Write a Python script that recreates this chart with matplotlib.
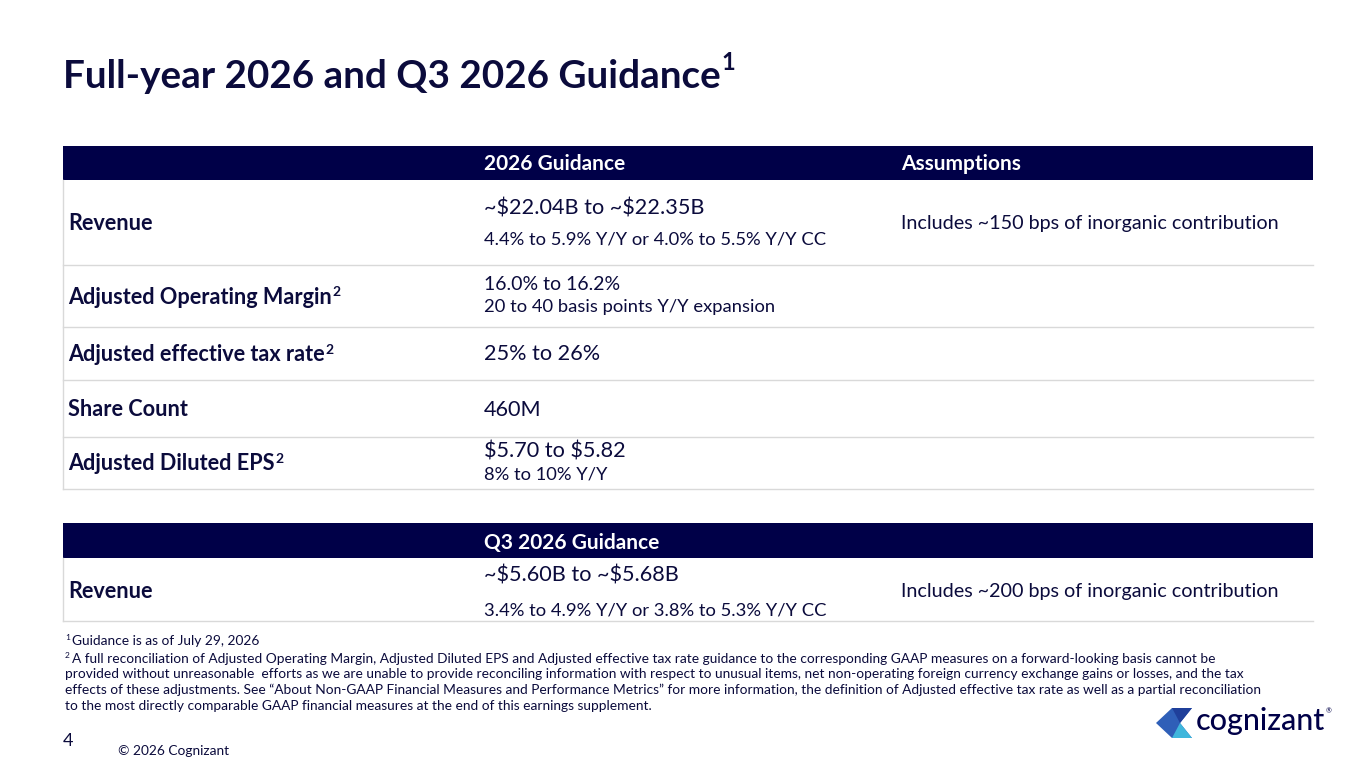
import matplotlib
matplotlib.use("Agg")
import matplotlib.pyplot as plt
from matplotlib.patches import Rectangle, Polygon

plt.rcParams['font.family'] = ['Lato', 'DejaVu Sans']
plt.rcParams['text.parse_math'] = False

NAVY = '#000048'
TXT = '#0b0b3c'
LINE = '#d9d9d9'

title = "Full-year 2026 and Q3 2026 Guidance"
headers = ["2026 Guidance", "Assumptions"]
row_labels = ["Revenue", "Adjusted Operating Margin", "Adjusted effective tax rate",
              "Share Count", "Adjusted Diluted EPS"]
row_sup = ["", "2", "2", "", "2"]
row_main = ["~$22.04B to ~$22.35B", "16.0% to 16.2%", "25% to 26%", "460M", "$5.70 to $5.82"]
row_sub = ["4.4% to 5.9% Y/Y or 4.0% to 5.5% Y/Y CC", "20 to 40 basis points Y/Y expansion",
           "", "", "8% to 10% Y/Y"]
row_assump = ["Includes ~150 bps of inorganic contribution", "", "", "", ""]
row_edges = [180, 265, 327, 380, 437, 489]

q3_header = "Q3 2026 Guidance"
q3_label = "Revenue"
q3_main = "~$5.60B to ~$5.68B"
q3_sub = "3.4% to 4.9% Y/Y or 3.8% to 5.3% Y/Y CC"
q3_assump = "Includes ~200 bps of inorganic contribution"

footnotes = [
    "A full reconciliation of Adjusted Operating Margin, Adjusted Diluted EPS and Adjusted effective tax rate guidance to the corresponding GAAP measures on a forward-looking basis cannot be",
    "provided without unreasonable  efforts as we are unable to provide reconciling information with respect to unusual items, net non-operating foreign currency exchange gains or losses, and the tax",
    "effects of these adjustments. See \u201cAbout Non-GAAP Financial Measures and Performance Metrics\u201d for more information, the definition of Adjusted effective tax rate as well as a partial reconciliation",
    "to the most directly comparable GAAP financial measures at the end of this earnings supplement.",
]

fig = plt.figure(figsize=(13.65, 7.68), dpi=100)
ax = fig.add_axes([0, 0, 1, 1])
ax.set_xlim(0, 1365)
ax.set_ylim(768, 0)
ax.axis('off')
fig.canvas.draw()
rend = fig.canvas.get_renderer()


def with_sup(x, y, s, sup, size, weight, supsize, dy):
    t = ax.text(x, y, s, fontsize=size, fontweight=weight, color=TXT, va='center')
    if sup:
        bb = t.get_window_extent(rend).transformed(ax.transData.inverted())
        ax.text(bb.x1 + 1, y - dy, sup, fontsize=supsize, fontweight=weight,
                color=TXT, va='center')


L, R = 63, 1313
CX = [68, 484, 901]

with_sup(63, 76, title, "1", 27.8, 'bold', 17, 13)

# table 1
ax.add_patch(Rectangle((L, 146), R - L, 34, color=NAVY, lw=0))
ax.text(CX[1], 164, headers[0], color='white', fontsize=15, fontweight='bold', va='center')
ax.text(CX[2], 164, headers[1], color='white', fontsize=15, fontweight='bold', va='center')
ax.plot([L, L], [180, row_edges[-1]], color=LINE, lw=1)
for i in range(len(row_labels)):
    y0, y1 = row_edges[i], row_edges[i + 1]
    yc = (y0 + y1) / 2
    ax.plot([L, R], [y1, y1], color=LINE, lw=1)
    with_sup(CX[0], yc + 1, row_labels[i], row_sup[i], 15.6, 'bold', 10, 5)
    if row_sub[i]:
        big = i in (0, 4)
        off = 14 if i == 0 else 11
        ax.text(CX[1], yc - off, row_main[i], fontsize=15.6 if big else 14, color=TXT, va='center')
        ax.text(CX[1], yc + off + (3 if i == 0 else 0), row_sub[i], fontsize=13.2, color=TXT, va='center')
    else:
        ax.text(CX[1], yc + 1, row_main[i], fontsize=15.6, color=TXT, va='center')
    if row_assump[i]:
        ax.text(CX[2], yc + 1, row_assump[i], fontsize=14.2, color=TXT, va='center')

# table 2
ax.add_patch(Rectangle((L, 523), R - L, 35, color=NAVY, lw=0))
ax.text(CX[1], 543, q3_header, color='white', fontsize=15, fontweight='bold', va='center')
ax.plot([L, L], [558, 621], color=LINE, lw=1)
ax.plot([L, R], [621, 621], color=LINE, lw=1)
ax.text(CX[0], 592, q3_label, fontsize=15.6, fontweight='bold', color=TXT, va='center')
ax.text(CX[1], 576, q3_main, fontsize=15.6, color=TXT, va='center')
ax.text(CX[1], 610, q3_sub, fontsize=13.2, color=TXT, va='center')
ax.text(CX[2], 592, q3_assump, fontsize=14.2, color=TXT, va='center')

# footnotes
ax.text(65, 637, "1", fontsize=6, color=TXT, va='center')
ax.text(72, 641, "Guidance is as of July 29, 2026", fontsize=9.9, color=TXT, va='center')
ax.text(65, 655, "2", fontsize=6, color=TXT, va='center')
for k, line in enumerate(footnotes):
    ax.text(72 if k == 0 else 65, 659 + k * 15.5, line, fontsize=9.9, color=TXT, va='center')
ax.text(118, 751, "\u00a9 2026 Cognizant", fontsize=9.9, color=TXT, va='center')
ax.text(63, 741, "4", fontsize=13, color=TXT, va='center')

# logo
ax.add_patch(Polygon([[1156, 723], [1172, 708], [1192, 708], [1180, 723], [1192, 738], [1172, 738]],
                     closed=True, color='#2f5fb8', lw=0))
ax.add_patch(Polygon([[1172, 708], [1192, 708], [1180, 723]], closed=True, color='#1f3f9a', lw=0))
ax.add_patch(Polygon([[1180, 723], [1192, 738], [1172, 738]], closed=True, color='#3fb6dc', lw=0))
ax.text(1196, 721, "cognizant", fontsize=22, color=NAVY, va='center', fontweight='medium')
ax.text(1326, 711, "\u00ae", fontsize=5, color=NAVY, va='center')

fig.savefig("out.png", dpi=100, facecolor='white')
